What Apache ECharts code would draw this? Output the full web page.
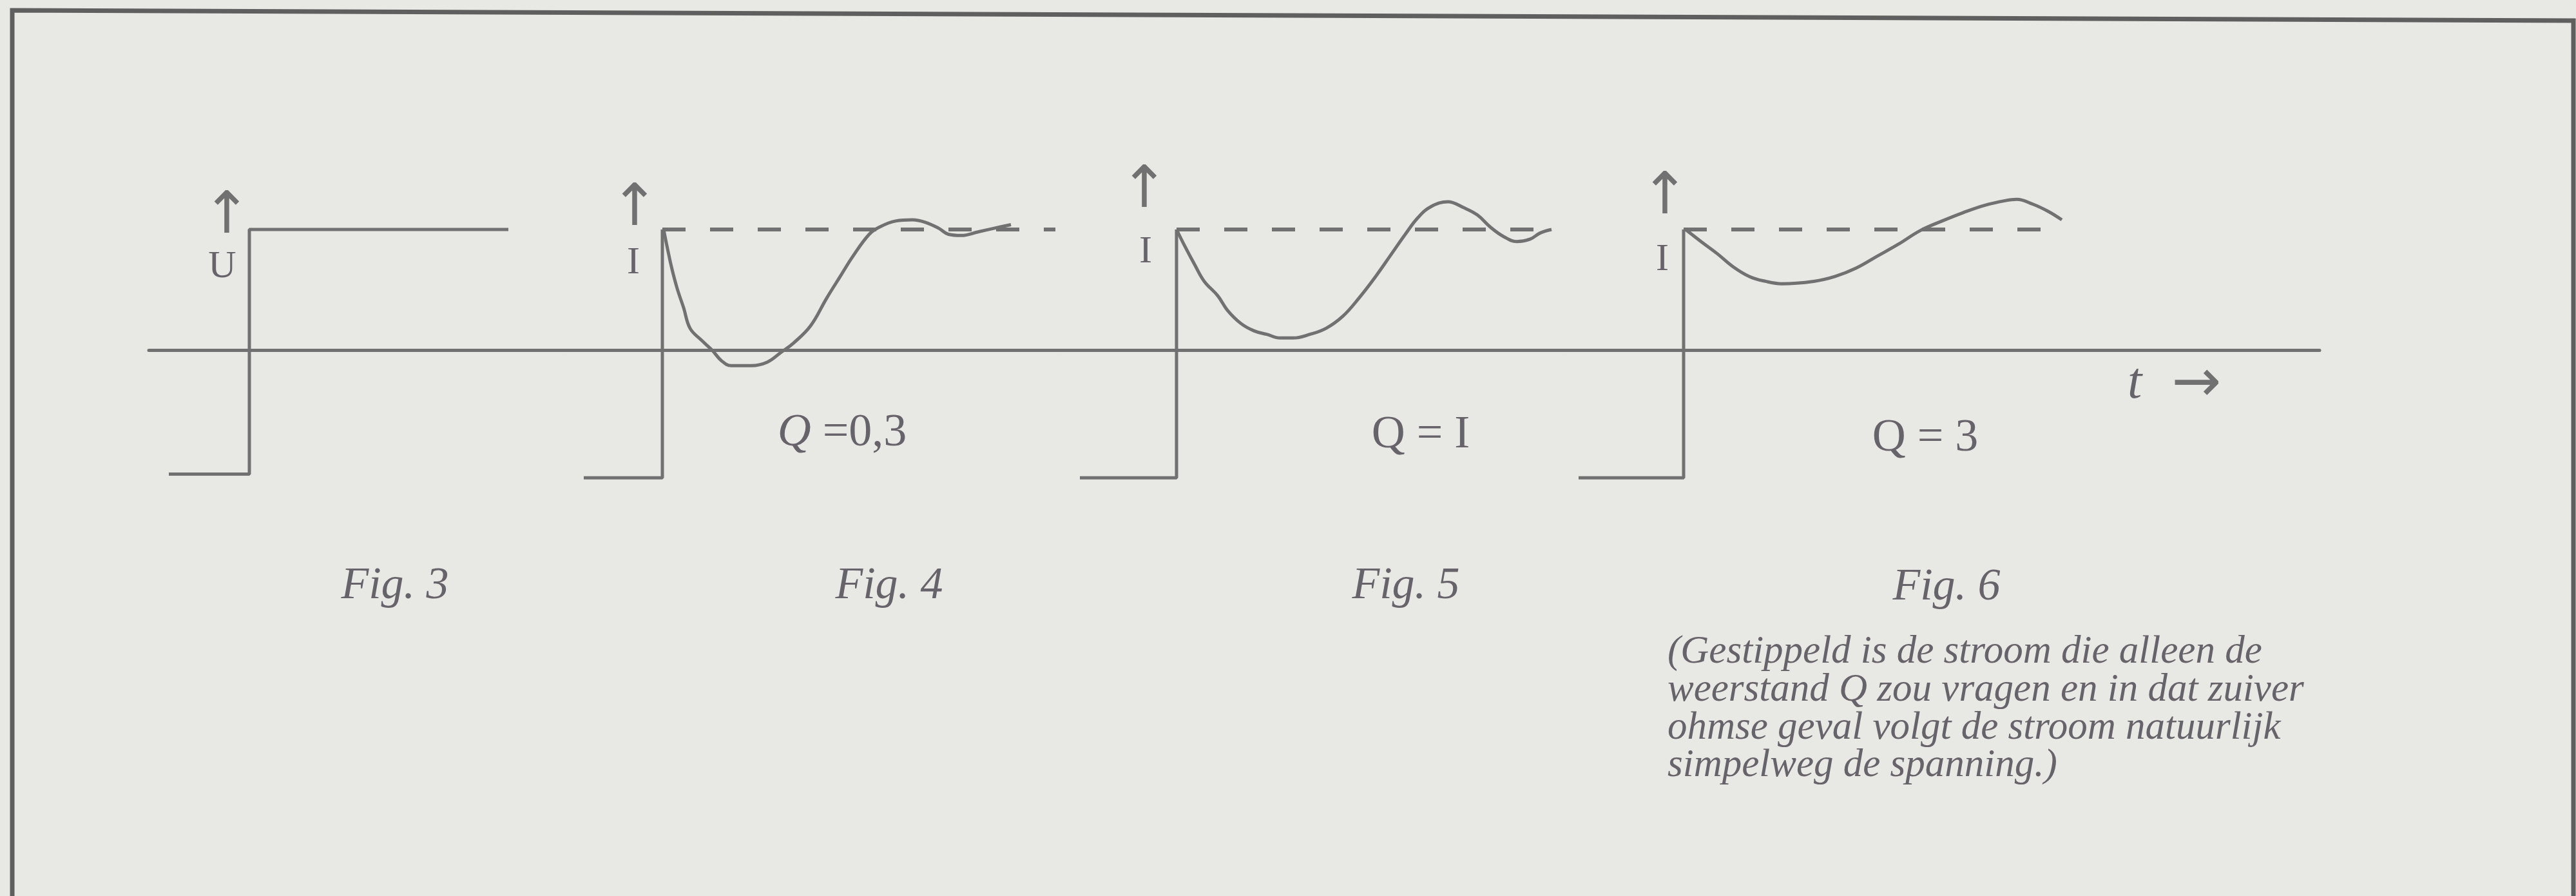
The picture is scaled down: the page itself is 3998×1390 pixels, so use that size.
<!DOCTYPE html>
<html>
<head>
<meta charset="utf-8">
<script src="https://cdn.jsdelivr.net/npm/echarts@6/dist/echarts.min.js"></script>
<style>
  html, body { margin: 0; padding: 0; background: #e8e9e4; }
  #main { width: 3998px; height: 1390px; }
</style>
</head>
<body>
<div id="main"></div>
<script>
// values are in units of I (the dashed level = 1), time t in arbitrary units, the step is at t = 0
const figNames = ["Fig. 3", "Fig. 4", "Fig. 5", "Fig. 6"];
const qLabels = ["", "{q|Q} =0,3", "Q = I", "Q = 3"];
const levelLabels = ["U", "I", "I", "I"];

const stepLow = [-1.03, -1.06, -1.06, -1.06];   // level before the step
const stepStart = [-1.25, -1.22, -1.5, -1.63];  // where the low level is drawn from
const fig3HighEnd = 4.02;                       // fig 3: voltage stays high
const dashedEnd = [0, 6.1, 5.8, 5.8];           // dashed "ohmic" current level 1

// current after the step, Q = 0,3
const fig4Curve = [
  [0.02, 1.0], [0.08, 0.84], [0.15, 0.67], [0.23, 0.51], [0.33, 0.35], [0.43, 0.18],
  [0.61, 0.08], [0.77, 0.0], [0.92, -0.09], [1.07, -0.13], [1.38, -0.13], [1.63, -0.1],
  [1.84, -0.02], [2.04, 0.06], [2.3, 0.2], [2.55, 0.43], [2.76, 0.61], [2.96, 0.78],
  [3.21, 0.96], [3.37, 1.02], [3.62, 1.07], [3.88, 1.08], [4.08, 1.06], [4.29, 1.01],
  [4.44, 0.96], [4.64, 0.95], [4.9, 0.98], [5.15, 1.01], [5.41, 1.04]
];
// Q = 1
const fig5Curve = [
  [0, 1.0], [0.13, 0.86], [0.28, 0.71], [0.43, 0.57], [0.64, 0.45], [0.79, 0.33],
  [1.0, 0.22], [1.2, 0.16], [1.4, 0.13], [1.61, 0.1], [1.81, 0.1], [2.07, 0.13],
  [2.32, 0.18], [2.58, 0.28], [2.83, 0.43], [3.09, 0.61], [3.34, 0.8], [3.55, 0.96],
  [3.75, 1.1], [3.95, 1.19], [4.21, 1.23], [4.46, 1.18], [4.67, 1.12], [4.87, 1.02],
  [5.08, 0.94], [5.28, 0.9], [5.49, 0.92], [5.64, 0.97], [5.82, 1.0]
];
// Q = 3
const fig6Curve = [
  [0.03, 1.0], [0.27, 0.9], [0.52, 0.8], [0.77, 0.69], [1.02, 0.61], [1.27, 0.57],
  [1.52, 0.55], [2.02, 0.57], [2.35, 0.61], [2.68, 0.68], [3.01, 0.78], [3.34, 0.88],
  [3.67, 0.99], [4.01, 1.07], [4.34, 1.14], [4.67, 1.2], [5.0, 1.24], [5.17, 1.25],
  [5.42, 1.21], [5.66, 1.15], [5.87, 1.08]
];

const caption = [
  "(Gestippeld is de stroom die alleen de",
  "weerstand Q zou vragen en in dat zuiver",
  "ohmse geval volgt de stroom natuurlijk",
  "simpelweg de spanning.)"
];

const ink = "#717171";
const textInk = "#67636a";
const serif = '"Liberation Serif", "DejaVu Serif", serif';

// one grid per figure, all with the same vertical scale
const gridLeft = [231, 880, 1650, 2430];
const gridWidth = [649, 770, 780, 1170];
const xRange = [[-1.56, 4.93], [-1.48, 6.22], [-1.76, 6.04], [-1.83, 9.87]];

const grids = [], xAxes = [], yAxes = [], series = [];
for (let i = 0; i < 4; i++) {
  grids.push({ left: gridLeft[i], width: gridWidth[i], top: 262.5, height: 504.9 });
  xAxes.push({
    type: "value", gridIndex: i, min: xRange[i][0], max: xRange[i][1],
    axisLine: { onZero: true, lineStyle: { color: ink, width: 5 } },
    axisTick: { show: false }, axisLabel: { show: false }, splitLine: { show: false }
  });
  yAxes.push({
    type: "value", gridIndex: i, min: -1.2, max: 1.5,
    axisLine: { show: false }, axisTick: { show: false },
    axisLabel: { show: false }, splitLine: { show: false }
  });

  const step = [[stepStart[i], stepLow[i]], [0, stepLow[i]], [0, 1]];
  if (i === 0) step.push([fig3HighEnd, 1]);
  series.push({
    type: "line", xAxisIndex: i, yAxisIndex: i, data: step,
    symbol: "none", lineStyle: { color: ink, width: 5 }, z: 3
  });
  if (i > 0) {
    series.push({
      type: "line", xAxisIndex: i, yAxisIndex: i, data: [[0, 1], [dashedEnd[i], 1]],
      symbol: "none", lineStyle: { color: ink, width: 6, type: [36, 38] }, z: 2
    });
  }
}
[fig4Curve, fig5Curve, fig6Curve].forEach((curve, k) => {
  series.push({
    type: "line", xAxisIndex: k + 1, yAxisIndex: k + 1, data: curve,
    symbol: "none", smooth: 0.4,
    lineStyle: { color: ink, width: 5 }, z: 4
  });
});

function txt(x, y, text, font, extra) {
  return {
    type: "text", x: x, y: y,
    style: Object.assign({
      text: text, font: font, fill: textInk,
      align: "center", verticalAlign: "middle",
      textAlign: "center", textVerticalAlign: "middle"
    }, extra || {})
  };
}

const graphics = [];
// page frame of the scan
graphics.push({
  type: "polyline",
  shape: { points: [[19, 1390], [19, 16], [3994, 32], [3994, 1390]] },
  style: { stroke: "#5f5f5f", lineWidth: 7, fill: null }
});
// up arrows and level letters
const arrowPos = [[352, 338], [985, 326], [1776, 298], [2584, 308]];
const letterPos = [[345, 414], [983, 408], [1778, 391], [2580, 403]];
for (let i = 0; i < 4; i++) {
  graphics.push(txt(arrowPos[i][0], arrowPos[i][1], "↑", '90px "DejaVu Sans"', { fill: ink }));
  graphics.push(txt(letterPos[i][0], letterPos[i][1], levelLabels[i], "60px " + serif));
}
// Q labels
const qPos = [null, [1307, 672], [2205, 675], [2988, 680]];
for (let i = 1; i < 4; i++) {
  graphics.push(txt(qPos[i][0], qPos[i][1], qLabels[i], "72px " + serif, {
    rich: { q: { fontStyle: "italic", fontSize: 72, fontFamily: serif, fill: textInk } }
  }));
}
// figure numbers
const figPos = [[613, 910], [1380, 910], [2182, 910], [3021, 912]];
for (let i = 0; i < 4; i++) {
  graphics.push(txt(figPos[i][0], figPos[i][1], figNames[i], "italic 70px " + serif));
}
// time arrow
graphics.push(txt(3313, 596, "t", "italic 80px " + serif));
graphics.push(txt(3409, 598, "→", '92px "DejaVu Sans"', { fill: ink }));
// caption
const captionY = [1012, 1071, 1130, 1188];
caption.forEach((line, k) => {
  graphics.push(txt(2588, captionY[k], line, "italic 61px " + serif, {
    align: "left", textAlign: "left"
  }));
});

const myChart = echarts.init(document.getElementById("main"));
myChart.setOption({
  backgroundColor: "#e8e9e4",
  animation: false,
  grid: grids,
  xAxis: xAxes,
  yAxis: yAxes,
  series: series,
  graphic: graphics
});
</script>
</body>
</html>
